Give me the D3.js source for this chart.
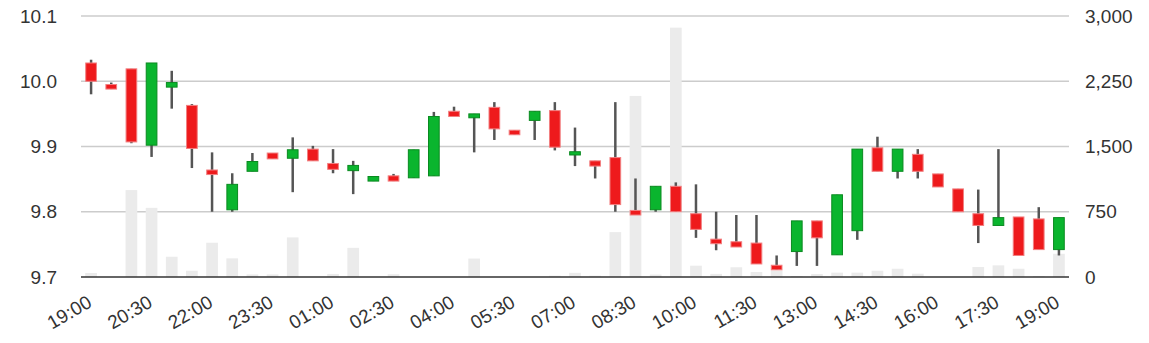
<!DOCTYPE html>
<html>
<head>
<meta charset="utf-8">
<script src="https://cdn.jsdelivr.net/npm/d3@7"></script>
<style>
  body { margin: 0; background: #fff; }
  text { font-family: "Liberation Sans", Arial, sans-serif; fill: #333; }
</style>
</head>
<body>
<svg id="chart"></svg>
<script>
var times = ["19:00","19:30","20:00","20:30","21:00","21:30","22:00","22:30","23:00","23:30",
  "00:00","00:30","01:00","01:30","02:00","02:30","03:00","03:30","04:00","04:30",
  "05:00","05:30","06:00","06:30","07:00","07:30","08:00","08:30","09:00","09:30",
  "10:00","10:30","11:00","11:30","12:00","12:30","13:00","13:30","14:00","14:30",
  "15:00","15:30","16:00","16:30","17:00","17:30","18:00","18:30","19:00"];
var open = [10.028,9.995,10.019,9.902,9.991,9.963,9.864,9.803,9.862,9.890,
  9.882,9.896,9.874,9.863,9.847,9.855,9.852,9.855,9.954,9.944,
  9.960,9.925,9.940,9.955,9.887,9.878,9.883,9.802,9.803,9.839,
  9.797,9.758,9.754,9.752,9.718,9.739,9.786,9.734,9.771,9.898,
  9.862,9.888,9.858,9.835,9.797,9.779,9.792,9.789,9.742];
var high = [10.033,9.998,10.019,10.028,10.016,9.965,9.891,9.859,9.890,9.890,
  9.914,9.901,9.896,9.878,9.854,9.858,9.895,9.953,9.961,9.950,
  9.968,9.925,9.954,9.968,9.929,9.878,9.968,9.851,9.839,9.845,
  9.842,9.800,9.795,9.795,9.733,9.786,9.786,9.826,9.896,9.915,
  9.896,9.896,9.858,9.835,9.834,9.896,9.792,9.807,9.791];
var low = [9.980,9.988,9.905,9.884,9.958,9.867,9.800,9.800,9.862,9.881,
  9.830,9.878,9.859,9.827,9.847,9.847,9.852,9.855,9.946,9.891,
  9.910,9.918,9.910,9.894,9.870,9.851,9.800,9.795,9.800,9.800,
  9.760,9.741,9.746,9.720,9.711,9.717,9.717,9.734,9.757,9.862,
  9.851,9.851,9.838,9.800,9.752,9.779,9.733,9.742,9.733];
var close = [10.000,9.988,9.907,10.028,9.998,9.897,9.857,9.842,9.877,9.881,
  9.895,9.878,9.865,9.871,9.854,9.847,9.895,9.946,9.946,9.950,
  9.927,9.918,9.954,9.899,9.892,9.870,9.811,9.795,9.839,9.800,
  9.773,9.751,9.746,9.720,9.711,9.786,9.760,9.826,9.896,9.862,
  9.896,9.862,9.838,9.800,9.779,9.791,9.733,9.742,9.791];
var volume = [46,0,999,795,233,72,394,214,30,30,
  455,0,35,335,0,32,0,0,0,212,
  0,0,0,15,48,15,516,2081,28,2866,
  130,36,112,57,74,12,34,50,50,72,
  95,38,0,0,115,134,95,12,267];
var priceTicks = [9.7, 9.8, 9.9, 10.0, 10.1];
var volumeTicks = [0, 750, 1500, 2250, 3000];

var width = 1149, height = 343;
var plot = { left: 81, right: 1069, top: 16, bottom: 277 };

var svg = d3.select("#chart").attr("width", width).attr("height", height);

var idx = d3.range(times.length);
var x = d3.scaleBand().domain(idx).range([plot.left, plot.right]).paddingInner(0.42).paddingOuter(0.21);
var y = d3.scaleLinear().domain([9.7, 10.1]).range([plot.bottom, plot.top]);
var yv = d3.scaleLinear().domain([0, 3000]).range([plot.bottom, plot.top]);

// gridlines
svg.append("g").selectAll("line")
  .data(priceTicks.slice(1))
  .enter().append("line")
  .attr("x1", plot.left).attr("x2", plot.right)
  .attr("y1", function(d){ return y(d); }).attr("y2", function(d){ return y(d); })
  .attr("stroke", "#cccccc").attr("stroke-width", 1.5);

// volume bars
svg.append("g").selectAll("rect")
  .data(idx.filter(function(i){ return volume[i] > 0; }))
  .enter().append("rect")
  .attr("x", function(i){ return x(i); })
  .attr("width", x.bandwidth())
  .attr("y", function(i){ return yv(volume[i]); })
  .attr("height", function(i){ return yv(0) - yv(volume[i]); })
  .attr("fill", "#ebebeb");

// baseline
svg.append("line")
  .attr("x1", plot.left).attr("x2", plot.right)
  .attr("y1", y(9.7)).attr("y2", y(9.7))
  .attr("stroke", "#333").attr("stroke-width", 1.5);

// left axis
var yaxis = d3.axisLeft(y).tickValues(priceTicks).tickSize(0).tickPadding(24).tickFormat(d3.format(".1f"));
var gl = svg.append("g").attr("transform", "translate(" + plot.left + ",0)").call(yaxis);
gl.select(".domain").remove();
gl.selectAll("text").style("font-size", "19px").attr("fill", "#333");

// right axis
var yvaxis = d3.axisRight(yv).tickValues(volumeTicks).tickSize(0).tickPadding(16).tickFormat(d3.format(","));
var gr = svg.append("g").attr("transform", "translate(" + plot.right + ",0)").call(yvaxis);
gr.select(".domain").remove();
gr.selectAll("text").style("font-size", "19px").attr("fill", "#333");

// x labels
svg.append("g").selectAll("text")
  .data(idx.filter(function(i){ return i % 3 === 0; }))
  .enter().append("text")
  .attr("transform", function(i){ return "translate(" + (x(i) + x.bandwidth() / 2 + 2) + "," + 306 + ") rotate(-30)"; })
  .attr("text-anchor", "end")
  .style("font-size", "19px")
  .attr("fill", "#222")
  .text(function(i){ return times[i]; });

// candles
var candles = svg.append("g").selectAll("g")
  .data(idx)
  .enter().append("g");

candles.append("line")
  .attr("x1", function(i){ return x(i) + x.bandwidth() / 2; })
  .attr("x2", function(i){ return x(i) + x.bandwidth() / 2; })
  .attr("y1", function(i){ return y(high[i]); })
  .attr("y2", function(i){ return y(low[i]); })
  .attr("stroke", "#555").attr("stroke-width", 2.5);

candles.append("rect")
  .attr("x", function(i){ return x(i) + 0.5; })
  .attr("width", x.bandwidth() - 1)
  .attr("y", function(i){ return y(Math.max(open[i], close[i])); })
  .attr("height", function(i){ return Math.max(1, Math.abs(y(open[i]) - y(close[i]))); })
  .attr("fill", function(i){ return close[i] >= open[i] ? "#0ab52e" : "#ee1a1c"; })
  .attr("stroke", function(i){ return close[i] >= open[i] ? "#0a8a20" : "#f27f80"; })
  .attr("stroke-width", 1);
</script>
</body>
</html>
